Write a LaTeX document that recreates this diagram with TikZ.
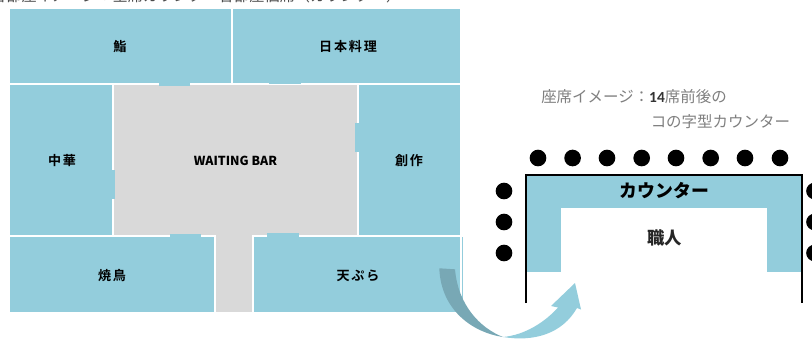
\documentclass[tikz,border=0pt]{standalone}
\usepackage{fontspec}
\setmainfont{Noto Sans CJK JP}
\newfontfamily\roomfont[LetterSpace=14,BoldFont={Noto Sans CJK JP Bold}]{Noto Sans CJK JP}
\newfontfamily\latinfont{Carlito}
\definecolor{roomblue}{HTML}{93CDDC}
\definecolor{arrowdark}{HTML}{78A8B5}
\definecolor{floorgrey}{HTML}{D9D9D9}
\definecolor{notegrey}{HTML}{7F7F7F}
\tikzset{
  room/.style={fill=roomblue},
  roomlabel/.style={inner sep=0pt,font=\fontsize{9.8pt}{11pt}\roomfont\bfseries,text=black},
  seat/.style={circle,fill=black,minimum size=12.5pt,inner sep=0pt},
  note/.style={inner sep=0pt,anchor=west,text=notegrey,font=\fontsize{11.6pt}{13pt}\selectfont},
  counterline/.style={black,line width=1.5pt}
}
\begin{document}
\begin{tikzpicture}[x=0.75pt,y=-0.75pt]
\useasboundingbox (0,0) rectangle (812,339);
% Top line: the reference crops it so only the glyph bottoms show and it is
% illegible. The wording below is a GUESS, placed to give a similar cut-off sliver.
\node[inner sep=0pt,anchor=west,text=black!70,font=\fontsize{11.4pt}{13pt}\selectfont] (topline) at (-9,-4) {各部屋イメージ：全席カウンター各部屋個席（カウンター）};
% floor
\fill[floorgrey] (114,85) rectangle (357,235);
\fill[floorgrey] (216,235) rectangle (252,312);
% rooms
\fill[room] (10,9) rectangle (231,83);
\fill[room] (233,9) rectangle (460,83);
\fill[room] (10,85) rectangle (112,235);
\fill[room] (359,85) rectangle (460,235);
\fill[room] (10,237) rectangle (214,312);
\fill[room] (254,237) rectangle (460,312);
\fill[room] (461.6,237) rectangle (462.6,312);
% openings
\fill[room] (159,83) rectangle (190,86);
\fill[room] (269,83) rectangle (301,84);
\fill[room] (112,170) rectangle (115,199);
\fill[room] (355,123) rectangle (359,152);
\fill[room] (170,234) rectangle (201,237);
\fill[room] (267,233) rectangle (299,237);
% labels
\node[roomlabel] (sushi) at (120,46.5) {鮨};
\node[roomlabel] (nihon) at (348,46.5) {日本料理};
\node[roomlabel] (chuka) at (62,161) {中華};
\node[inner sep=0pt,font=\fontsize{9.3pt}{12pt}\selectfont\bfseries,text=black] (bar) at (235.5,161) {WAITING BAR};
\node[roomlabel] (sosaku) at (409,161) {創作};
\node[roomlabel] (yaki) at (112,275.5) {焼鳥};
\node[roomlabel] (tempura) at (358,275.5) {天ぷら};
% notes
\node[note] (note1) at (541,97) {座席イメージ：{\latinfont\bfseries\color{black!80}14}席前後の};
\node[note] (note2) at (650.5,122) {コの字型カウンター};
% counter
\fill[room] (526,175) rectangle (801,208);
\fill[room] (526,208) rectangle (561,272);
\fill[room] (767,208) rectangle (801,272);
\draw[counterline] (525.5,303) -- (525.5,174.5) -- (802,174.5) -- (802,303);
\node[inner sep=0pt,font=\fontsize{13.4pt}{15pt}\selectfont\bfseries,text=black] (counter) at (664.5,190.5) {カウンター};
\node[inner sep=0pt,font=\fontsize{13pt}{15pt}\selectfont\bfseries,text=black!85] (chef) at (664.5,238) {職人};
% seats
\foreach \n/\x in {a/538,b/572.6,c/607,d/641.7,e/676,f/710.7,g/745,h/780}
  \node[seat] (top\n) at (\x,158) {};
\foreach \n/\y in {a/191,b/222,c/253}{
  \node[seat] (left\n) at (504,\y) {};
  \node[seat] (right\n) at (814.5,\y) {};
}
% arrow
\fill[arrowdark] (439.3,268.3) -- (455,269.3) .. controls (458,305) and (480,328) .. (503,337)
  .. controls (475,333) and (441,312) .. cycle;
\fill[roomblue] (503,337) .. controls (534,342) and (562,334) .. (577,308)
  -- (581,309.5) -- (575,283) -- (551,306) -- (558,307.5)
  .. controls (545,322) and (525,335) .. cycle;
\end{tikzpicture}
\end{document}
